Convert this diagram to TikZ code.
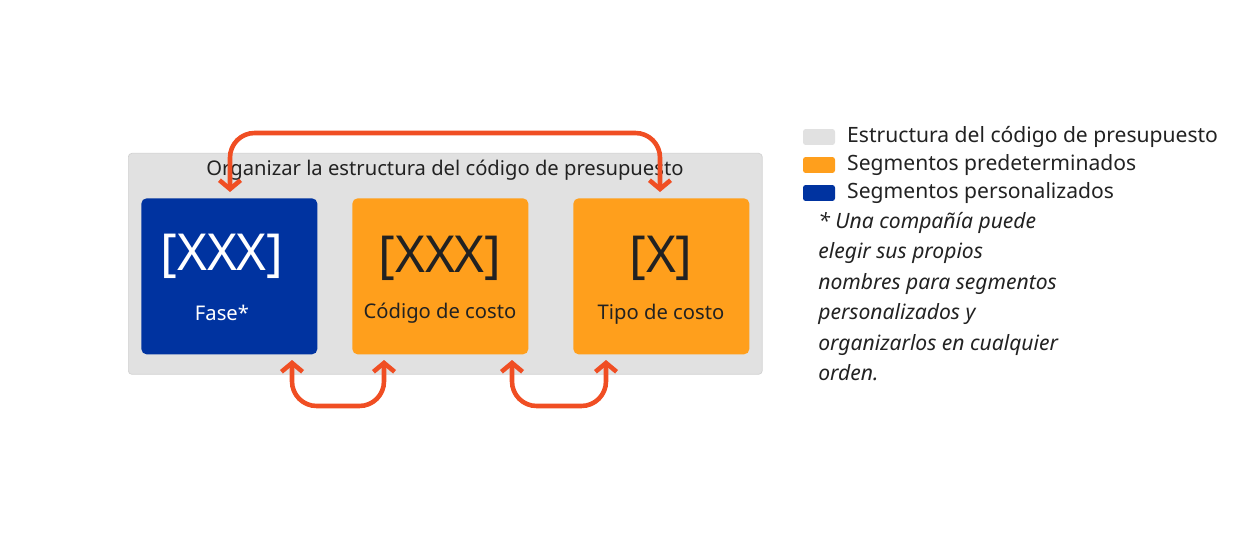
\documentclass[tikz,border=0pt]{standalone}
\usepackage{fontspec}
\setmainfont{Noto Sans}
\usetikzlibrary{arrows.meta}
\definecolor{cblue}{HTML}{0033A0}
\definecolor{corange}{HTML}{FF9F1C}
\definecolor{carrow}{HTML}{F04E23}
\definecolor{cgray}{HTML}{E1E1E1}
\definecolor{cgrayb}{HTML}{D2D2D2}
\definecolor{ctext}{HTML}{222222}
\begin{document}
\begin{tikzpicture}[x=0.02cm,y=-0.02cm,
 seg/.style={rounded corners=3pt,minimum width=3.52cm,minimum height=3.12cm,anchor=north west},
 conn/.style={draw=carrow,line width=2.6pt,rounded corners=14pt,{Straight Barb[length=5pt,width=12pt]}-{Straight Barb[length=5pt,width=12pt]}},
 big/.style={font=\fontsize{29}{32}\selectfont},
 lab/.style={font=\bfseries\fontsize{11.5}{14}\selectfont},
 sw/.style={rounded corners=1.5pt,minimum width=0.64cm,minimum height=0.32cm,inner sep=0pt},
 leg/.style={anchor=west,font=\fontsize{12}{14}\selectfont,text=ctext}]
\useasboundingbox (0,0) rectangle (1255,537);
\node[seg,fill=cgray,draw=cgrayb,minimum width=12.68cm,minimum height=4.42cm,rounded corners=2pt] (frame) at (128,153) {};
\node[lab,text=ctext] (title) at (445,170) {Organizar la estructura del código de presupuesto};
\node[seg,fill=cblue] (b1) at (141,198) {};
\node[seg,fill=corange] (b2) at (352,198) {};
\node[seg,fill=corange] (b3) at (573,198) {};
\node[big,text=white] (t1) at (222,256) {[XXX]};
\node[lab,text=white] (l1) at (222,313) {Fase*};
\node[big,text=ctext] (t2) at (440,258) {[XXX]};
\node[lab,text=ctext] (l2) at (440,313) {Código de costo};
\node[big,text=ctext] (t3) at (661,258) {[X]};
\node[lab,text=ctext] (l3) at (661,314) {Tipo de costo};
\coordinate (a1) at (230,192); \coordinate (a2) at (660,192);
\coordinate (c1) at (292,360); \coordinate (c2) at (384,360);
\coordinate (c3) at (512,360); \coordinate (c4) at (606,360);
\draw[conn] (a1) -- (230,133) -- (660,133) -- (a2);
\draw[conn] (c1) -- (292,406) -- (384,406) -- (c2);
\draw[conn] (c3) -- (512,406) -- (606,406) -- (c4);
\node[sw,fill=cgray] (s1) at (819,137) {};
\node[sw,fill=corange] (s2) at (819,165) {};
\node[sw,fill=cblue] (s3) at (819,193) {};
\node[leg] (g1) at (841,137) {Estructura del código de presupuesto};
\node[leg] (g2) at (841,165) {Segmentos predeterminados};
\node[leg] (g3) at (841,193) {Segmentos personalizados};
\node[anchor=north west,align=left,font=\itshape\fontsize{12}{17.3}\selectfont,text=ctext,inner sep=0pt] (note) at (818,212)
 {* Una compañía puede\\elegir sus propios\\nombres para segmentos\\personalizados y\\organizarlos en cualquier\\orden.};
\end{tikzpicture}
\end{document}
